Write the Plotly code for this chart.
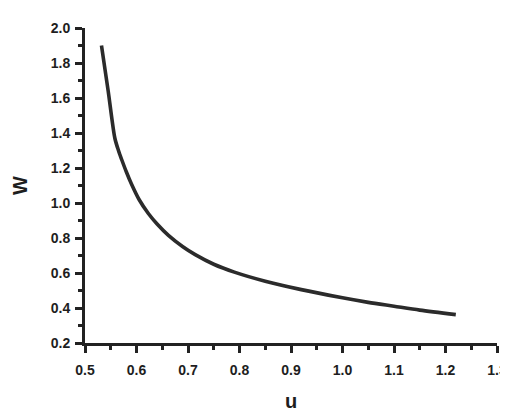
import plotly.graph_objects as go

u = [0.532, 0.545, 0.558, 0.565, 0.571, 0.58, 0.59, 0.605, 0.623, 0.64, 0.662, 0.69, 0.714, 0.75, 0.79, 0.85, 0.92, 1.0, 1.05, 1.1, 1.15, 1.22]
w = [1.90, 1.64, 1.37, 1.30, 1.25, 1.18, 1.11, 1.02, 0.94, 0.88, 0.815, 0.75, 0.705, 0.65, 0.605, 0.553, 0.505, 0.458, 0.432, 0.41, 0.388, 0.362]

x_ticks = [0.5, 0.6, 0.7, 0.8, 0.9, 1.0, 1.1, 1.2, 1.3]
y_ticks = [0.2, 0.4, 0.6, 0.8, 1.0, 1.2, 1.4, 1.6, 1.8, 2.0]

fig = go.Figure(go.Scatter(x=u, y=w, mode="lines",
                           line=dict(color="#2b2b2b", width=3.6, shape="spline", smoothing=0.8)))

font = dict(family="Liberation Sans, Arial", size=14, color="#1e1e1e", weight="bold")
title_font = dict(family="Liberation Sans, Arial", size=20, color="#1e1e1e", weight="bold")

# The page body adds an 8px margin, so the figure is 500x404 inside the 508x412 window.
fig.update_layout(
    width=500, height=404,
    margin=dict(l=77, r=11, t=20, b=69),
    paper_bgcolor="white", plot_bgcolor="white",
    showlegend=False,
    xaxis=dict(range=[0.5, 1.3], tickvals=x_ticks, ticktext=[f"{v:.1f}" for v in x_ticks],
               automargin=False, ticklabelstandoff=5,
               showgrid=False, zeroline=False, showline=True, linecolor="#222", linewidth=3,
               ticks="outside", ticklen=7, tickwidth=2.5, tickcolor="#222", tickfont=font,
               minor=dict(ticks="outside", ticklen=4, tickwidth=2.5, tickcolor="#222", dtick=0.05, tick0=0.5, showgrid=False),
               title=dict(text="u", font=title_font, standoff=18)),
    yaxis=dict(range=[0.2, 2.0], tickvals=y_ticks, ticktext=[f"{v:.1f}" for v in y_ticks],
               automargin=False, ticklabelstandoff=2,
               showgrid=False, zeroline=False, showline=True, linecolor="#222", linewidth=3,
               ticks="outside", ticklen=7, tickwidth=2.5, tickcolor="#222", tickfont=font,
               minor=dict(ticks="outside", ticklen=4, tickwidth=2.5, tickcolor="#222", dtick=0.1, tick0=0.2, showgrid=False),
               title=dict(text="W", font=title_font, standoff=18)),
)

fig.write_html("out.html")
